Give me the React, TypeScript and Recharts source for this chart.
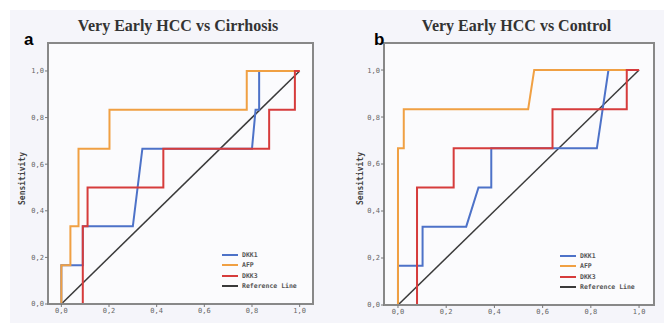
import React from 'react';
import { LineChart, Line, XAxis, YAxis, ReferenceArea } from 'recharts';

// ROC curve points: [1 - specificity, sensitivity]
const cirrhosisDkk1 = [[0, 0], [0, 1 / 6], [0.09, 1 / 6], [0.09, 1 / 3], [0.3, 1 / 3], [0.34, 2 / 3], [0.8, 2 / 3], [0.815, 5 / 6], [0.83, 5 / 6], [0.83, 1], [1, 1]];
const cirrhosisAfp = [[0, 0], [0, 1 / 6], [0.038, 1 / 6], [0.038, 1 / 3], [0.072, 1 / 3], [0.072, 2 / 3], [0.202, 2 / 3], [0.202, 5 / 6], [0.778, 5 / 6], [0.778, 1], [1, 1]];
const cirrhosisDkk3 = [[0, 0], [0.09, 0], [0.09, 1 / 3], [0.11, 1 / 3], [0.11, 0.5], [0.428, 0.5], [0.428, 2 / 3], [0.872, 2 / 3], [0.872, 5 / 6], [0.98, 5 / 6], [0.98, 1], [1, 1]];

const controlDkk1 = [[0, 0], [0, 1 / 6], [0.102, 1 / 6], [0.102, 1 / 3], [0.283, 1 / 3], [0.334, 0.5], [0.387, 0.5], [0.387, 2 / 3], [0.825, 2 / 3], [0.873, 1], [1, 1]];
const controlAfp = [[0, 0], [0, 2 / 3], [0.024, 2 / 3], [0.024, 5 / 6], [0.54, 5 / 6], [0.565, 1], [1, 1]];
const controlDkk3 = [[0, 0], [0.079, 0], [0.079, 0.5], [0.231, 0.5], [0.231, 2 / 3], [0.641, 2 / 3], [0.641, 5 / 6], [0.949, 5 / 6], [0.949, 1], [1, 1]];

const referenceLine = [[0, 0], [1, 1]];
const ticks = [0, 0.2, 0.4, 0.6, 0.8, 1];
const legendNames = ['DKK1', 'AFP', 'DKK3', 'Reference Line'];
const colors = ['#4d72c8', '#f0a043', '#d63c3c', '#3a3a3a'];

const toRows = (pts: number[][]) => pts.map(([x, y]) => ({ x, y }));
const fmt = (v: number) => v.toFixed(1).replace('.', ',');

const tickStyle = { fontSize: 7, fill: '#666', fontFamily: 'DejaVu Sans Mono' };

type PanelProps = {
  left: number; width: number; xDomain: number[]; yTop: number; xAxisH: number;
  title: string; letter: string; letterX: number; labelX: number;
  series: number[][][]; legendX: number; legendY: number;
};

const Panel: React.FC<PanelProps> = ({ left, width, xDomain, yTop, xAxisH, title, letter, letterX, labelX, series, legendX, legendY }) => (
  <div style={{ position: 'absolute', left, top: 0, width, height: 323 }}>
    <LineChart width={width} height={323} margin={{ top: 43, right: 19, left: 18, bottom: 0 }}>
      <XAxis type="number" dataKey="x" domain={xDomain} ticks={ticks} tickFormatter={fmt}
        tick={tickStyle} tickSize={3} tickMargin={1} height={xAxisH} axisLine={{ stroke: '#888', strokeWidth: 2 }} tickLine={{ stroke: '#777' }} allowDataOverflow />
      <YAxis type="number" dataKey="y" domain={[0, yTop]} ticks={ticks} tickFormatter={fmt}
        tick={tickStyle} tickSize={3} tickMargin={1} width={30} axisLine={{ stroke: '#888', strokeWidth: 2 }} tickLine={{ stroke: '#777' }} allowDataOverflow />
      <ReferenceArea x1={xDomain[0]} x2={xDomain[1]} y1={0} y2={yTop} fill="#fbfbfd" fillOpacity={1} stroke="#888" strokeWidth={2} />
      <Line data={toRows(referenceLine)} dataKey="y" stroke={colors[3]} strokeWidth={1.5} dot={false} isAnimationActive={false} />
      {series.map((pts, i) => (
        <Line key={i} data={toRows(pts)} dataKey="y" stroke={colors[i]} strokeWidth={2} dot={false} isAnimationActive={false} />
      ))}
    </LineChart>
    <div style={{ position: 'absolute', left: 0, width: width + 24, top: 17, textAlign: 'center', fontFamily: 'Liberation Serif', fontWeight: 'bold', fontSize: 16, color: '#333' }}>{title}</div>
    <div style={{ position: 'absolute', left: letterX, top: 30, fontFamily: 'Liberation Sans', fontWeight: 'bold', fontSize: 17, color: '#000' }}>{letter}</div>
    <div style={{ position: 'absolute', left: labelX, top: 174, transform: 'rotate(-90deg)', width: 60, textAlign: 'center', fontFamily: 'DejaVu Sans Mono', fontWeight: 'bold', fontSize: 8, color: '#444' }}>Sensitivity</div>
    <div style={{ position: 'absolute', left: legendX, top: legendY }}>
      {legendNames.map((n, i) => (
        <div key={n} style={{ display: 'flex', alignItems: 'center', height: 10.3 }}>
          <div style={{ width: 16, height: 2, background: colors[i], marginRight: 4 }} />
          <span style={{ fontFamily: 'DejaVu Sans Mono', fontSize: 6.5, color: '#555', fontWeight: 'bold' }}>{n}</span>
        </div>
      ))}
    </div>
  </div>
);

export default function App() {
  return (
    <div style={{ position: 'relative', width: 664, height: 323, background: '#fff', overflow: 'hidden' }}>
      <style>{'body{margin:0}'}</style>
      <div style={{ position: 'absolute', left: 10, top: 10, right: 0, bottom: 0, background: '#f5f5fa' }} />
      <Panel left={0} width={332} xDomain={[-0.056, 1.056]} yTop={1.12} xAxisH={19}
        title="Very Early HCC vs Cirrhosis" letter="a" letterX={24} labelX={-8}
        series={[cirrhosisDkk1, cirrhosisAfp, cirrhosisDkk3]} legendX={222} legendY={250} />
      <Panel left={336} width={337} xDomain={[-0.058, 1.062]} yTop={1.115} xAxisH={18}
        title="Very Early HCC vs Control" letter="b" letterX={38} labelX={-6}
        series={[controlDkk1, controlAfp, controlDkk3]} legendX={224} legendY={251} />
    </div>
  );
}
